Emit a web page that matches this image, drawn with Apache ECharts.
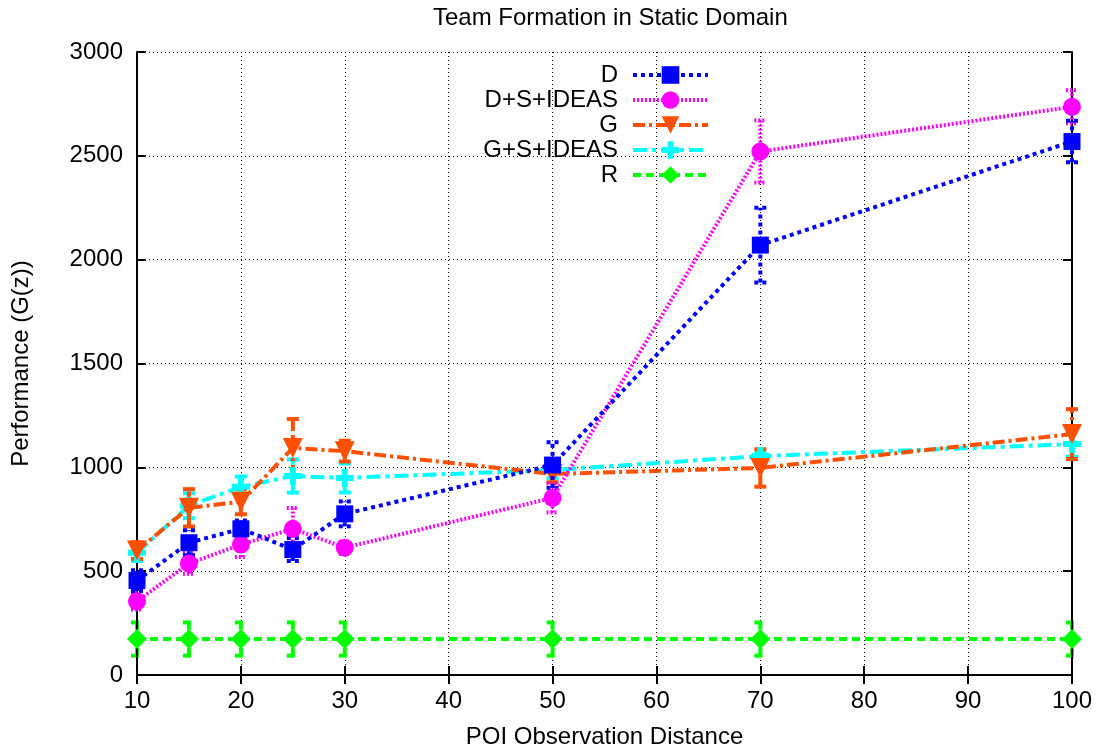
<!DOCTYPE html>
<html><head><meta charset="utf-8">
<script src="https://cdn.jsdelivr.net/npm/echarts@6/dist/echarts.min.js"></script>
<style>html,body{margin:0;padding:0;background:#fff}#c{width:1105px;height:754px}</style>
</head><body><div id="c"></div>
<script>
var xs = [10, 15, 20, 25, 30, 50, 70, 100];
var seriesNames = ['D', 'D+S+IDEAS', 'G', 'G+S+IDEAS', 'R'];
var D      = [455, 637, 704, 604, 776, 1011, 2070, 2569];
var D_err  = [50, 60, 40, 55, 60, 110, 180, 100];
var DS     = [355, 537, 628, 704, 613, 853, 2521, 2736];
var DS_err = [40, 50, 60, 100, 30, 70, 150, 80];
var G      = [599, 805, 834, 1093, 1078, 968, 997, 1160];
var G_err  = [40, 90, 60, 140, 50, 40, 90, 120];
var GS     = [589, 815, 906, 958, 949, 987, 1054, 1112];
var GS_err = [40, 60, 50, 80, 70, 40, 20, 60];
var R      = [173, 173, 173, 173, 173, 173, 173, 173];
var R_err  = [80, 80, 80, 80, 80, 80, 80, 80];
var xTicks = [10, 20, 30, 40, 50, 60, 70, 80, 90, 100];

var chart = echarts.init(document.getElementById('c'));
var font = 'Liberation Sans, Arial, Helvetica, sans-serif';
var FS = 24;

var styles = [
  {color:'#0000ff', dash:[4,4], symbol:'rect', size:17, rot:0},
  {color:'#ff00ff', dash:[2,2], symbol:'circle', size:18, rot:0},
  {color:'#ff4f00', dash:[12,4,3,4], symbol:'triangle', size:20, rot:180},
  {color:'#00ffff', dash:[14,5,4,5], symbol:'path://M-1,-3L1,-3L1,-1L3,-1L3,1L1,1L1,3L-1,3L-1,1L-3,1L-3,-1L-1,-1Z', size:18, rot:0},
  {color:'#00ff00', dash:[8,5], symbol:'diamond', size:20, rot:0}
];
var vals = [D, DS, G, GS, R];
var errs = [D_err, DS_err, G_err, GS_err, R_err];

var series = [];
vals.forEach(function(v, i){
  var st = styles[i];
  series.push({
    name: seriesNames[i], type:'line',
    data: xs.map(function(x,j){return [x, v[j]];}),
    symbol: st.symbol, symbolSize: st.size, symbolRotate: st.rot,
    lineStyle:{color:st.color, width:4, type:st.dash},
    itemStyle:{color:st.color},
    z: 5 - i, animation:false
  });
  series.push({
    name: seriesNames[i], type:'custom',
    data: xs.map(function(x,j){return [x, v[j]-errs[i][j], v[j]+errs[i][j]];}),
    renderItem: function(params, api){
      var lo = api.coord([api.value(0), api.value(1)]);
      var hi = api.coord([api.value(0), api.value(2)]);
      var w = 6;
      var ls = {stroke:st.color, lineWidth:4, lineDash:st.dash};
      return {type:'group', children:[
        {type:'line', shape:{x1:lo[0],y1:lo[1],x2:hi[0],y2:hi[1]}, style:ls},
        {type:'line', shape:{x1:lo[0]-w,y1:lo[1],x2:lo[0]+w,y2:lo[1]}, style:ls},
        {type:'line', shape:{x1:hi[0]-w,y1:hi[1],x2:hi[0]+w,y2:hi[1]}, style:ls}
      ]};
    },
    z: 4 - i, animation:false
  });
});

var axisCommon = {
  axisLine:{show:true, lineStyle:{color:'#000', width:2}},
  axisTick:{show:true, inside:true, length:9, lineStyle:{color:'#000', width:2}}
};

chart.setOption({
  animation:false,
  backgroundColor:'#fff',
  title:{text:'Team Formation in Static Domain', left:428, top:1,
    textStyle:{fontFamily:font, fontWeight:'normal', fontSize:FS, color:'#000'}},
  legend:{
    orient:'vertical', right: 390, top: 58, itemGap: 1, itemWidth: 75, itemHeight: 22,
    align:'right',
    data: seriesNames,
    lineStyle:{width:4},
    textStyle:{fontFamily:font, fontSize:FS, color:'#000', lineHeight:24, padding:[0,10,0,0]}
  },
  grid:{left:137, right:33, top:52, bottom:76},
  xAxis:[
    Object.assign({type:'value', min:10, max:100, interval:10,
      name:'POI Observation Distance', nameLocation:'middle', nameGap:50,
      nameTextStyle:{fontFamily:font, fontSize:FS, color:'#000'},
      axisLabel:{fontFamily:font, fontSize:FS, color:'#000', margin:14},
      splitLine:{show:true, lineStyle:{color:'#000', type:[1,3], width:1}}
    }, axisCommon),
    Object.assign({type:'value', position:'top', min:10, max:100, interval:10,
      axisLabel:{show:false}, splitLine:{show:false}}, axisCommon)
  ],
  yAxis:[
    Object.assign({type:'value', min:0, max:3000, interval:500,
      name:'Performance (G(z))', nameLocation:'middle', nameGap:104,
      nameTextStyle:{fontFamily:font, fontSize:FS, color:'#000'},
      axisLabel:{fontFamily:font, fontSize:FS, color:'#000', margin:14,
        formatter:function(v){return String(v);}},
      splitLine:{show:true, lineStyle:{color:'#000', type:[1,3], width:1}}
    }, axisCommon),
    Object.assign({type:'value', position:'right', min:0, max:3000, interval:500,
      axisLabel:{show:false}, splitLine:{show:false}}, axisCommon)
  ],
  series: series
});
</script>
</body></html>
